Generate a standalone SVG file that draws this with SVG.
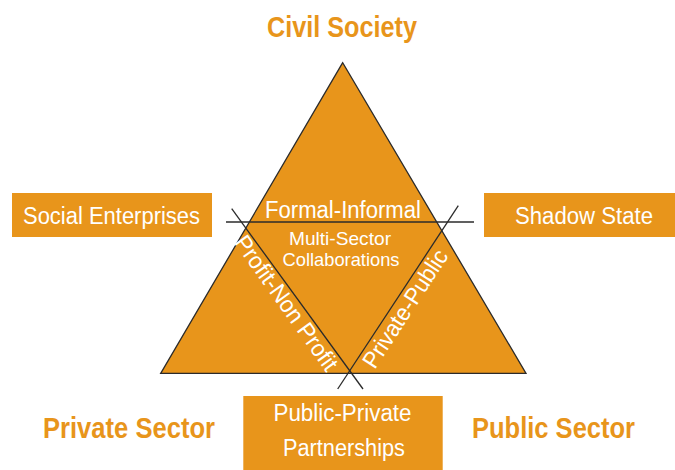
<svg xmlns="http://www.w3.org/2000/svg" width="675" height="470" viewBox="0 0 675 470">
<style>
.box{fill:#E8951B;}
.wt{fill:#ffffff;font-family:"Liberation Sans",Arial,sans-serif;font-size:23.5px;text-anchor:middle;}
.sm{font-size:19px;}
.title{fill:#E8951B;font-family:"Liberation Sans",Arial,sans-serif;font-size:29px;font-weight:bold;text-anchor:middle;}
.ln{stroke:#2b2b2b;stroke-width:1.3;fill:none;}
</style>
<rect width="675" height="470" fill="#ffffff"/>
<g id="triangle">
<polygon points="342.7,62.7 160.7,373.3 526,373.3" fill="#E8951B" stroke="#2b2b2b" stroke-width="1.3" stroke-linejoin="miter"/>
</g>
<g id="connectors">
<line class="ln" x1="226" y1="222" x2="474" y2="222"/>
<line class="ln" x1="231.7" y1="208.7" x2="363" y2="389"/>
<line class="ln" x1="458.3" y1="205.7" x2="337.7" y2="389"/>
</g>
<g id="civil-society"><text class="title" x="342" y="36.7" textLength="150" lengthAdjust="spacingAndGlyphs">Civil Society</text></g>
<g id="private-sector"><text class="title" x="129" y="438.3" textLength="172" lengthAdjust="spacingAndGlyphs">Private Sector</text></g>
<g id="public-sector"><text class="title" x="553.5" y="438.3" textLength="163" lengthAdjust="spacingAndGlyphs">Public Sector</text></g>
<g id="social-enterprises">
<rect class="box" x="12" y="193" width="200" height="44"/>
<text class="wt" x="111.5" y="224" textLength="177" lengthAdjust="spacingAndGlyphs">Social Enterprises</text>
</g>
<g id="shadow-state">
<rect class="box" x="484" y="193" width="191" height="44"/>
<text class="wt" x="584" y="224" textLength="138" lengthAdjust="spacingAndGlyphs">Shadow State</text>
</g>
<g id="public-private-partnerships">
<rect class="box" x="243.3" y="396" width="199.4" height="74"/>
<text class="wt" x="342.5" y="421" textLength="138" lengthAdjust="spacingAndGlyphs">Public-Private</text>
<text class="wt" x="344" y="455.5" textLength="122" lengthAdjust="spacingAndGlyphs">Partnerships</text>
</g>
<g id="formal-informal"><text class="wt" x="343" y="217.7" textLength="156" lengthAdjust="spacingAndGlyphs">Formal-Informal</text></g>
<g id="multi-sector">
<text class="wt sm" x="340" y="245" textLength="102" lengthAdjust="spacingAndGlyphs">Multi-Sector</text>
<text class="wt sm" x="341" y="266" textLength="117" lengthAdjust="spacingAndGlyphs">Collaborations</text>
</g>
<g id="profit-non-profit"><text class="wt" x="280" y="307.7" transform="rotate(54.5 280 307.7)" textLength="160" lengthAdjust="spacingAndGlyphs">Profit-Non Profit</text></g>
<g id="private-public"><text class="wt" x="411.8" y="313" transform="rotate(-56.9 411.8 313)" textLength="136" lengthAdjust="spacingAndGlyphs">Private-Public</text></g>
</svg>
